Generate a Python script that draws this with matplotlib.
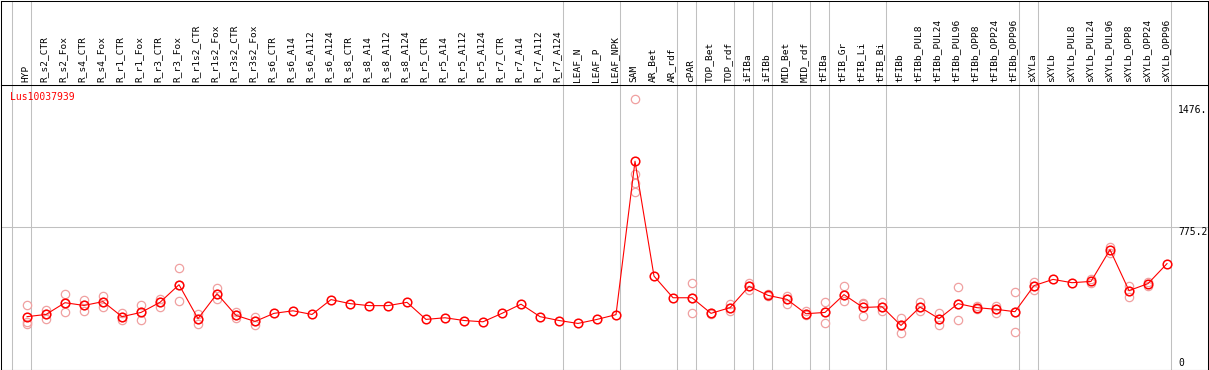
import numpy as np
import matplotlib
matplotlib.use("Agg")
import matplotlib.pyplot as plt
from matplotlib.transforms import blended_transform_factory, offset_copy

# column names (header)
samples = ["HYP",
           "R_s2_CTR", "R_s2_Fox", "R_s4_CTR", "R_s4_Fox", "R_r1_CTR", "R_r1_Fox",
           "R_r3_CTR", "R_r3_Fox", "R_r1s2_CTR", "R_r1s2_Fox", "R_r3s2_CTR", "R_r3s2_Fox",
           "R_s6_CTR", "R_s6_A14", "R_s6_A112", "R_s6_A124",
           "R_s8_CTR", "R_s8_A14", "R_s8_A112", "R_s8_A124",
           "R_r5_CTR", "R_r5_A14", "R_r5_A112", "R_r5_A124",
           "R_r7_CTR", "R_r7_A14", "R_r7_A112", "R_r7_A124",
           "LEAF_N", "LEAF_P", "LEAF_NPK",
           "SAM", "AR_Bet", "AR_rdf", "cPAR", "TOP_Bet", "TOP_rdf",
           "iFIBa", "iFIBb", "MID_Bet", "MID_rdf",
           "tFIBa", "tFIB_Gr", "tFIB_Li", "tFIB_Bi", "tFIBb",
           "tFIBb_PUL8", "tFIBb_PUL24", "tFIBb_PUL96", "tFIBb_OPP8", "tFIBb_OPP24", "tFIBb_OPP96",
           "sXYLa", "sXYLb",
           "sXYLb_PUL8", "sXYLb_PUL24", "sXYLb_PUL96", "sXYLb_OPP8", "sXYLb_OPP24", "sXYLb_OPP96"]

# mean expression per sample
means = [288, 300, 364, 349, 370, 288, 311, 366, 462, 277, 413, 295, 262,
         306, 320, 300, 381, 359, 348, 348, 366, 273, 282, 267, 260,
         306, 356, 288, 267, 251, 273, 299,
         1135, 509, 391, 391, 306, 337, 453, 404, 382, 304,
         311, 408, 338, 342, 240, 340, 277, 359, 337, 328, 315,
         457, 491, 473, 480, 653, 430, 468, 577]

# individual replicates (empty = only the mean shown)
replicates = [[349, 257, 246], [326, 300, 273], [413, 364, 315], [377, 352, 318],
              [399, 370, 342], [307, 288, 268], [353, 311, 268], [386, 366, 342],
              [555, 462, 375], [302, 277, 250], [444, 413, 384], [311, 295, 280],
              [286, 262, 240],
              [], [], [], [], [], [], [], [], [], [], [], [], [], [], [], [], [], [], [],
              [1476, 1068, 1014, 968], [], [], [473, 391, 310], [310, 302],
              [356, 337, 318], [471, 453, 435], [410, 398], [400, 382, 355],
              [318, 304, 295], [370, 311, 255], [453, 408, 373], [362, 357, 293],
              [367, 342, 318], [280, 240, 200], [367, 340, 317], [310, 277, 242],
              [449, 359, 271], [344, 329], [344, 328, 307], [424, 315, 206],
              [477, 457, 431], [], [], [491, 470], [668, 635], [453, 430, 395],
              [479, 457], []]

# group boundaries: separator drawn before these columns
group_starts = [0, 1, 29, 32, 35, 36, 38, 39, 40, 42, 43, 46, 53, 54, 61]

ymax = 1550.4
ymid = 775.2
gene = "Lus10037939"

W, H = 1209, 370
fig = plt.figure(figsize=(W / 100, H / 100), dpi=100)

# x: column i sits at pixel 27 + 19*i
xl = ((1 - 27) / 19, (1208 - 27) / 19)
ax = fig.add_axes([1 / W, 0.5 / H, 1207 / W, 284.5 / H])
hd = fig.add_axes([1 / W, 285 / H, 1207 / W, 84.5 / H])

for a in (ax, hd):
    a.set_xlim(*xl)
    a.set_xticks([])
    a.set_yticks([])
    for s in a.spines.values():
        s.set_linewidth(0.75)
        s.set_color("black")
    for k in group_starts:
        a.axvline(k - 15 / 19, color="#c0c0c0", lw=0.75, zorder=0)

ax.set_ylim(0, ymax)
hd.set_ylim(0, 1)
ax.axhline(ymid, color="#c0c0c0", lw=0.75, zorder=0)

x = np.arange(len(samples))
for i, r in enumerate(replicates):
    if r:
        ax.plot([i] * len(r), r, ls="none", marker="o", ms=6, mfc="none",
                mec="#f0a0a0", mew=0.9, zorder=2)
ax.plot(x, means, color="red", lw=0.8, zorder=3)
ax.plot(x, means, ls="none", marker="o", ms=6.2, mfc="none", mec="red",
        mew=1.1, zorder=4)

for i, name in enumerate(samples):
    hd.text(i - 0.08, 0.03, name, rotation=90, ha="center", va="bottom",
            family="DejaVu Sans Mono", fontsize=6.8)

ax.text(9 / 1207, 0.975, gene, transform=ax.transAxes, ha="left", va="top",
        color="red", family="DejaVu Sans Mono", fontsize=7)

tr = blended_transform_factory(ax.transAxes, ax.transData)
for val, txt, dy in [(1476, "1476.", -11), (ymid, "775.2", -5), (0, "0", 7)]:
    ax.text(1177 / 1207, val, txt, ha="left", va="center",
            transform=offset_copy(tr, fig=fig, x=0, y=dy, units="dots"),
            family="DejaVu Sans Mono", fontsize=7)

fig.savefig("out.png", dpi=100)
